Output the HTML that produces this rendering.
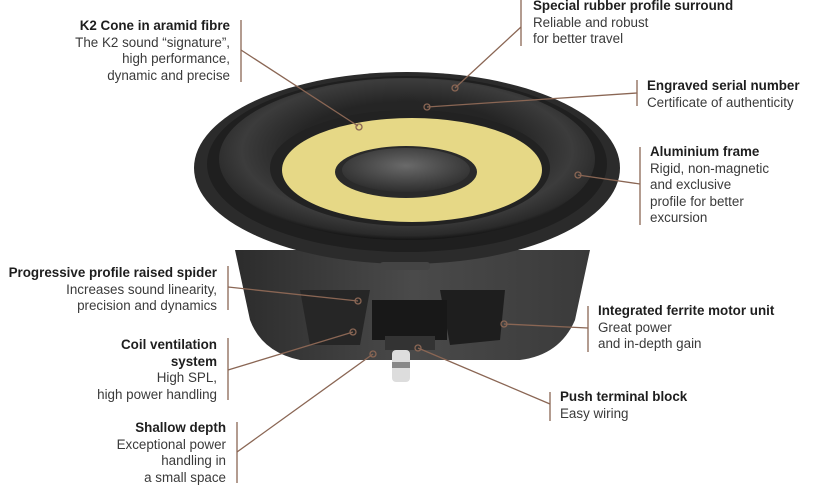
<!DOCTYPE html>
<html><head><meta charset="utf-8"><style>
html,body{margin:0;padding:0;background:#fff;}
body{width:817px;height:488px;overflow:hidden;position:relative;font-family:"Liberation Sans",sans-serif;}
.t{position:absolute;font-size:13.4px;line-height:16.6px;color:#3a3a3a;white-space:nowrap;}
.t b{color:#1e1e1e;font-weight:bold;}
.r{text-align:right;}
</style></head><body>
<svg width="817" height="488" style="position:absolute;left:0;top:0">
<defs>
<radialGradient id="sur" cx="0.5" cy="0.45" r="0.55">
<stop offset="0.55" stop-color="#252525"/><stop offset="0.8" stop-color="#3c3c3c"/><stop offset="0.95" stop-color="#2a2a2a"/><stop offset="1" stop-color="#151515"/></radialGradient>
<radialGradient id="cap" cx="0.5" cy="0.4" r="0.6"><stop offset="0" stop-color="#6a6a6a"/><stop offset="1" stop-color="#2e2e2e"/></radialGradient>
<linearGradient id="bas" x1="0" y1="0" x2="1" y2="0"><stop offset="0" stop-color="#2c2c2c"/><stop offset="0.5" stop-color="#4a4a4a"/><stop offset="1" stop-color="#3a3a3a"/></linearGradient>
</defs>
<!-- basket -->
<path d="M235 250 L590 250 L575 320 Q560 355 520 360 L300 360 Q262 352 250 320 Z" fill="url(#bas)"/>
<path d="M300 290 L370 290 L360 345 L310 345 Z" fill="#262626"/>
<path d="M440 290 L505 290 L500 340 L450 345 Z" fill="#1e1e1e"/>
<rect x="372" y="300" width="75" height="40" fill="#181818"/>
<rect x="385" y="336" width="50" height="14" fill="#333"/>
<rect x="392" y="350" width="18" height="32" rx="4" fill="#ddd"/>
<rect x="392" y="362" width="18" height="6" fill="#888"/>
<!-- frame -->
<ellipse cx="407" cy="168" rx="213" ry="96" fill="#2b2b2b"/>
<ellipse cx="407" cy="164" rx="200" ry="88" fill="#1f1f1f"/>
<rect x="380" y="262" width="50" height="8" rx="3" fill="#444"/>
<ellipse cx="407" cy="159" rx="188" ry="81" fill="url(#sur)"/>
<ellipse cx="410" cy="168" rx="140" ry="58" fill="#222"/>
<ellipse cx="412" cy="170" rx="130" ry="52" fill="#e6d886"/>
<ellipse cx="406" cy="172" rx="71" ry="26" fill="#2a2a2a"/>
<ellipse cx="406" cy="170" rx="64" ry="22" fill="url(#cap)"/>
<!-- leaders -->
<g stroke="#8a6654" stroke-width="1.3" fill="none">
<line x1="241" y1="20" x2="241" y2="82"/><line x1="241" y1="50" x2="358" y2="126"/>
<line x1="228" y1="266" x2="228" y2="310"/><line x1="228" y1="287" x2="358" y2="301"/>
<line x1="228" y1="338" x2="228" y2="400"/><line x1="228" y1="370" x2="353" y2="332"/>
<line x1="237" y1="422" x2="237" y2="483"/><line x1="237" y1="452" x2="373" y2="354"/>
<line x1="521" y1="0" x2="521" y2="46"/><line x1="521" y1="27" x2="455" y2="88"/>
<line x1="637" y1="80" x2="637" y2="106"/><line x1="637" y1="93" x2="427" y2="107"/>
<line x1="640" y1="147" x2="640" y2="225"/><line x1="640" y1="184" x2="578" y2="175"/>
<line x1="588" y1="306" x2="588" y2="352"/><line x1="588" y1="328" x2="504" y2="324"/>
<line x1="550" y1="392" x2="550" y2="421"/><line x1="550" y1="404" x2="418" y2="348"/>
<circle cx="359" cy="127" r="3"/><circle cx="358" cy="301" r="3"/><circle cx="353" cy="332" r="3"/><circle cx="373" cy="354" r="3"/>
<circle cx="455" cy="88" r="3"/><circle cx="427" cy="107" r="3"/><circle cx="578" cy="175" r="3"/><circle cx="504" cy="324" r="3"/><circle cx="418" cy="348" r="3"/>
</g>
</svg>
<div class="t r" style="right:587px;top:18px"><b>K2 Cone in aramid fibre</b><br>The K2 sound “signature”,<br>high performance,<br>dynamic and precise</div>
<div class="t r" style="right:600px;top:265px"><b>Progressive profile raised spider</b><br>Increases sound linearity,<br>precision and dynamics</div>
<div class="t r" style="right:600px;top:337px"><b>Coil ventilation<br>system</b><br>High SPL,<br>high power handling</div>
<div class="t r" style="right:591px;top:420px"><b>Shallow depth</b><br>Exceptional power<br>handling in<br>a small space</div>
<div class="t" style="left:533px;top:-2px"><b>Special rubber profile surround</b><br>Reliable and robust<br>for better travel</div>
<div class="t" style="left:647px;top:78px"><b>Engraved serial number</b><br>Certificate of authenticity</div>
<div class="t" style="left:650px;top:144px"><b>Aluminium frame</b><br>Rigid, non-magnetic<br>and exclusive<br>profile for better<br>excursion</div>
<div class="t" style="left:598px;top:303px"><b>Integrated ferrite motor unit</b><br>Great power<br>and in-depth gain</div>
<div class="t" style="left:560px;top:389px"><b>Push terminal block</b><br>Easy wiring</div>
</body></html>
